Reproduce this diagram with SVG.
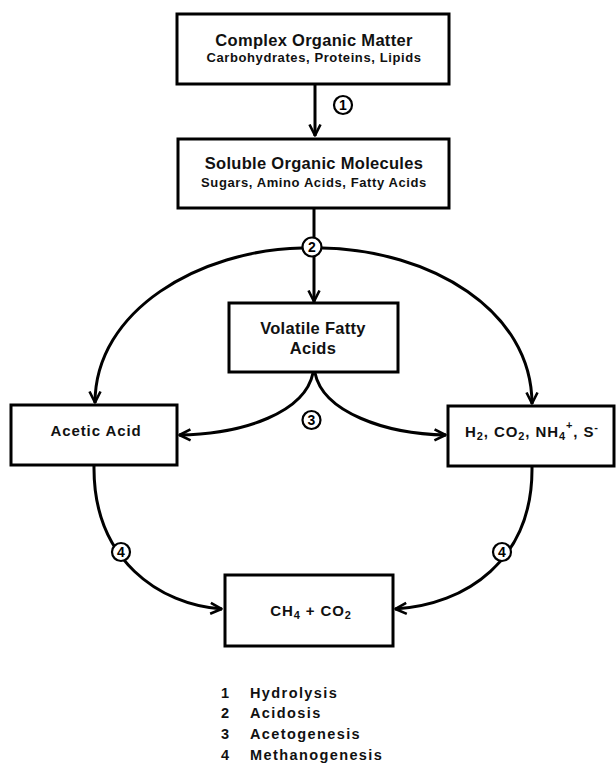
<svg xmlns="http://www.w3.org/2000/svg" width="616" height="763" viewBox="0 0 616 763">
<defs>
<style>
.box{fill:#fff;stroke:#000;stroke-width:3}
.t{font-family:"Liberation Sans",Arial,sans-serif;font-weight:bold;fill:#111;text-anchor:middle}
.h{font-size:16.5px;letter-spacing:0.3px}
.s{font-size:13px;letter-spacing:0.6px}
.m{font-size:15px;letter-spacing:0.9px}
.c{fill:#fff;stroke:#000;stroke-width:2.2}
.n{font-family:"Liberation Sans",Arial,sans-serif;font-weight:bold;font-size:14px;text-anchor:middle;fill:#000}
.ln{fill:none;stroke:#000;stroke-width:3}
.lg{font-family:"Liberation Sans",Arial,sans-serif;font-weight:bold;font-size:14.5px;letter-spacing:1.4px;fill:#111}
</style>
<marker id="ah" viewBox="0 0 14 14" refX="13" refY="7" markerWidth="14" markerHeight="14" markerUnits="userSpaceOnUse" orient="auto">
<path d="M1.5 1.5 L12.5 7 L1.5 12.5" fill="none" stroke="#000" stroke-width="2.6" stroke-linejoin="round"/>
</marker>
</defs>
<rect width="616" height="763" fill="#fff"/>
<g id="connectors">
<path class="ln" d="M315 84 L315 136" marker-end="url(#ah)"/>
<path class="ln" d="M314 208 L314 302" marker-end="url(#ah)"/>
<path class="ln" d="M302 248 C200 250 95 310 95 403" marker-end="url(#ah)"/>
<path class="ln" d="M322 248 C430 250 532 310 532 404" marker-end="url(#ah)"/>
<path class="ln" d="M313 373 C305 412 245 434 179 435" marker-end="url(#ah)"/>
<path class="ln" d="M315 373 C323 412 385 434 446 435" marker-end="url(#ah)"/>
<path class="ln" d="M94 466 C93 560 160 605 222 609" marker-end="url(#ah)"/>
<path class="ln" d="M532 467 C533 560 466 605 395 609" marker-end="url(#ah)"/>
</g>
<g id="step1"><circle class="c" cx="343" cy="105" r="9"/><text class="n" x="343" y="110">1</text></g>
<g id="step2"><circle class="c" cx="312" cy="247" r="9.5"/><text class="n" x="312" y="252">2</text></g>
<g id="step3"><circle class="c" cx="311.5" cy="420" r="9"/><text class="n" x="311.5" y="425">3</text></g>
<g id="step4a"><circle class="c" cx="121" cy="552" r="9"/><text class="n" x="121" y="557">4</text></g>
<g id="step4b"><circle class="c" cx="502" cy="552" r="9"/><text class="n" x="502" y="557">4</text></g>
<g id="complex">
<rect class="box" x="177" y="14" width="272" height="70"/>
<text class="t h" x="314" y="46">Complex Organic Matter</text>
<text class="t s" x="314" y="62">Carbohydrates, Proteins, Lipids</text>
</g>
<g id="soluble">
<rect class="box" x="178" y="139" width="271" height="69"/>
<text class="t h" x="314" y="169">Soluble Organic Molecules</text>
<text class="t s" x="314" y="187">Sugars, Amino Acids, Fatty Acids</text>
</g>
<g id="vfa">
<rect class="box" x="229" y="303" width="169" height="69"/>
<text class="t h" x="313" y="334">Volatile Fatty</text>
<text class="t h" x="313" y="354">Acids</text>
</g>
<g id="acetic">
<rect class="box" x="11" y="405" width="166" height="60"/>
<text class="t m" x="96" y="436">Acetic Acid</text>
</g>
<g id="gases">
<rect class="box" x="448" y="406" width="166" height="60"/>
<text class="t m" x="532" y="437">H<tspan font-size="11" dy="3">2</tspan><tspan dy="-3">, CO</tspan><tspan font-size="11" dy="3">2</tspan><tspan dy="-3">, NH</tspan><tspan font-size="11" dy="3">4</tspan><tspan font-size="11" dy="-11">+</tspan><tspan dy="8">, S</tspan><tspan font-size="11" dy="-6">-</tspan></text>
</g>
<g id="methane">
<rect class="box" x="225" y="575" width="168" height="71"/>
<text class="t m" x="311" y="616">CH<tspan font-size="11" dy="3">4</tspan><tspan dy="-3"> + CO</tspan><tspan font-size="11" dy="3">2</tspan></text>
</g>
<g id="legend">
<text class="lg" x="221" y="698">1</text><text class="lg" x="250" y="698">Hydrolysis</text>
<text class="lg" x="221" y="718">2</text><text class="lg" x="250" y="718">Acidosis</text>
<text class="lg" x="221" y="739">3</text><text class="lg" x="250" y="739">Acetogenesis</text>
<text class="lg" x="221" y="760">4</text><text class="lg" x="250" y="760">Methanogenesis</text>
</g>
</svg>
